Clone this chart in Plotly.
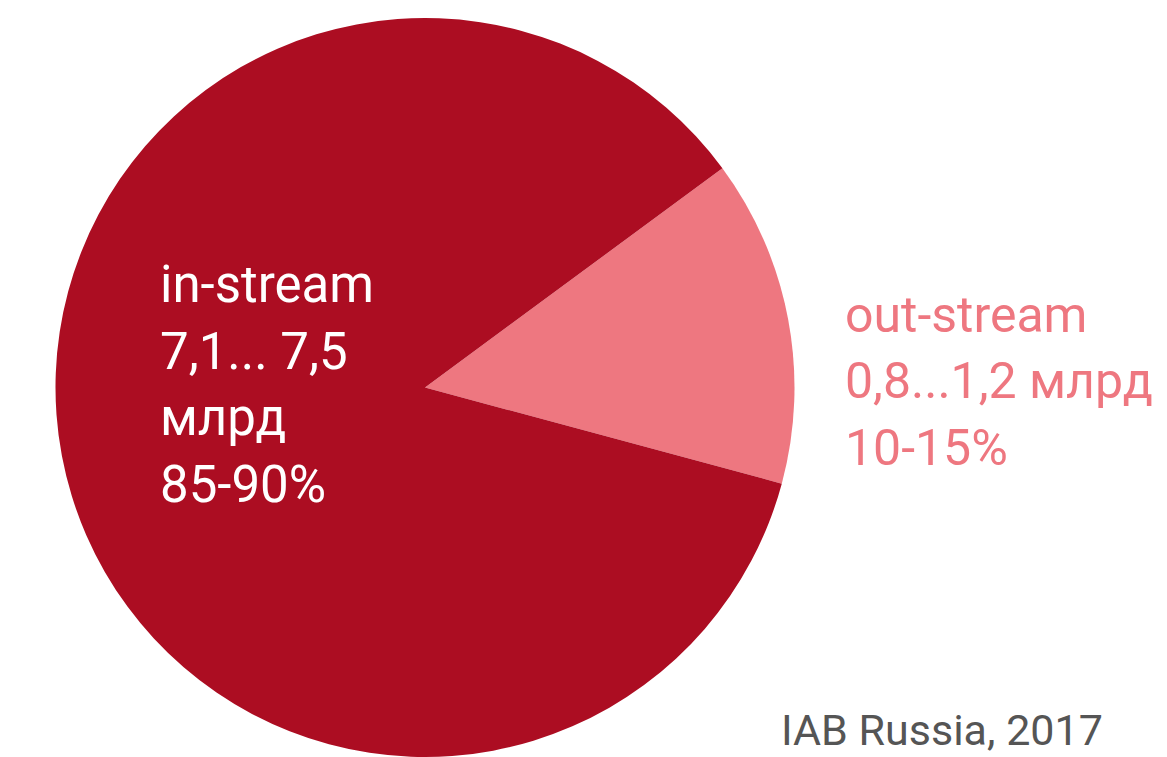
import plotly.graph_objects as go

W, H = 1167, 757

# Data (slice shares)
categories = ["out-stream", "in-stream"]
shares = [14.3, 85.7]
colors = ["#EE7780", "#AC0D22"]

in_lines = ["in-stream", "7,1... 7,5", "млрд", "85-90%"]
out_lines = ["out-stream", "0,8...1,2 млрд", "10-15%"]
source = "IAB Russia, 2017"

FONT = "Roboto"

fig = go.Figure()
fig.add_trace(go.Pie(
    labels=categories,
    values=shares,
    sort=False,
    direction="clockwise",
    rotation=53.6,
    marker=dict(colors=colors, line=dict(width=0)),
    textinfo="none",
    hoverinfo="label+percent",
    showlegend=False,
    domain=dict(x=[55.5 / W, 794.5 / W], y=[0, 1 - 18 / H]),
))

def px(x):
    return x / W

def py(y):
    return 1 - y / H

FS = 51
annotations = []
for i, t in enumerate(in_lines):
    base = 302 + i * 66.5
    annotations.append(dict(text=t, x=px(158), y=py(base - 0.34 * FS), xref="paper", yref="paper",
                            xanchor="left", yanchor="middle", showarrow=False,
                            font=dict(family=FONT, size=FS, color="white")))
for i, t in enumerate(out_lines):
    base = 332 + i * 66.5
    annotations.append(dict(text=t, x=px(843), y=py(base - 0.34 * FS), xref="paper", yref="paper",
                            xanchor="left", yanchor="middle", showarrow=False,
                            font=dict(family=FONT, size=FS - 1, color="#EE7780")))
FS2 = 43
annotations.append(dict(text=source, x=px(1105), y=0, xref="paper", yref="paper",
                        xanchor="right", yanchor="bottom", showarrow=False,
                        font=dict(family=FONT, size=FS2, color="#555555")))

fig.update_layout(
    width=W, height=H,
    margin=dict(l=0, r=0, t=0, b=0),
    paper_bgcolor="white",
    plot_bgcolor="white",
    annotations=annotations,
)

fig.write_html("out.html")
